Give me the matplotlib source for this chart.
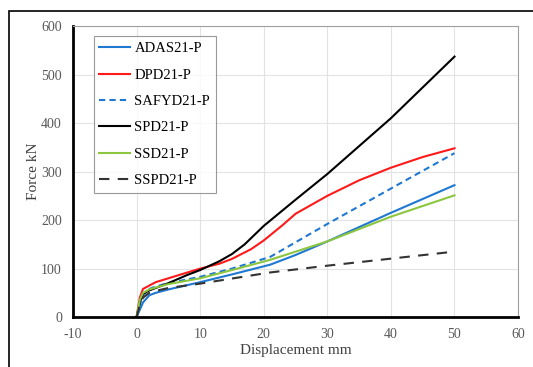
import matplotlib
matplotlib.use("Agg")
import matplotlib.pyplot as plt
from matplotlib.patches import Rectangle

plt.rcParams['font.family'] = ['Liberation Serif', 'DejaVu Serif']
plt.rcParams['axes.unicode_minus'] = False

# displacement (mm) / force (kN)
adas_x = [0, 0.5, 1, 2, 3, 5, 10, 15, 21, 25, 30, 40, 50]
adas_y = [0, 15, 30, 45, 50, 57, 72, 88, 108, 128, 156, 215, 272]

dpd_x = [0, 0.5, 1, 2, 3, 5, 8, 10, 13, 15, 18, 20, 23, 25, 30, 35, 40, 45, 50]
dpd_y = [0, 40, 58, 65, 72, 80, 92, 100, 110, 120, 140, 158, 190, 213, 250, 282, 308, 330, 348]

safyd_x = [0, 0.5, 1, 2, 3, 5, 10, 15, 21, 30, 40, 50]
safyd_y = [0, 25, 45, 58, 63, 70, 83, 100, 124, 192, 265, 338]

spd_x = [0, 0.5, 1, 2, 5, 8, 10, 13, 15, 17, 20, 25, 30, 40, 50]
spd_y = [0, 30, 48, 55, 70, 87, 97, 115, 130, 150, 188, 242, 295, 410, 537]

ssd_x = [0, 0.5, 1, 2, 3, 5, 10, 15, 21, 30, 40, 50]
ssd_y = [0, 35, 50, 57, 61, 68, 80, 97, 118, 156, 207, 251]

sspd_x = [0, 0.5, 1, 2, 3, 5, 10, 21, 30, 50]
sspd_y = [0, 25, 40, 50, 54, 60, 69, 92, 106, 135]

fig = plt.figure(figsize=(5.33, 3.67), dpi=100)
ax = fig.add_axes([0.137, 0.136, 0.835, 0.793])

ax.plot(adas_x, adas_y, color="#1f78d1", lw=1.5, label="ADAS21-P")
ax.plot(dpd_x, dpd_y, color="#ff1a1a", lw=1.5, label="DPD21-P")
ax.plot(safyd_x, safyd_y, color="#1f78d1", lw=1.5, ls=(0, (3, 2)), label="SAFYD21-P")
ax.plot(spd_x, spd_y, color="black", lw=1.5, label="SPD21-P")
ax.plot(ssd_x, ssd_y, color="#8cc63f", lw=1.5, label="SSD21-P")
ax.plot(sspd_x, sspd_y, color="#333333", lw=1.5, ls=(0, (5, 4)), label="SSPD21-P")

ax.set_xlim(-10, 60)
ax.set_ylim(0, 600)
ax.set_xticks(range(-10, 61, 10))
ax.set_yticks(range(0, 601, 100))
ax.grid(True, color="#e3e3e3", lw=0.8)
ax.set_axisbelow(True)
ax.tick_params(length=0, labelsize=10, labelcolor="#595959", pad=8)

for s in ["top", "right"]:
    ax.spines[s].set_color("#a0a0a0")
    ax.spines[s].set_linewidth(0.8)
for s in ["left", "bottom"]:
    ax.spines[s].set_color("black")
    ax.spines[s].set_linewidth(2)

ax.set_xlabel("Displacement mm", fontsize=11, color="#404040", labelpad=2)
ax.set_ylabel("Force kN", fontsize=11, color="#404040", labelpad=1)

leg = ax.legend(loc="upper left", bbox_to_anchor=(0.03, 0.99), fontsize=10.5,
                frameon=True, fancybox=False, edgecolor="#808080",
                handlelength=2.1, handletextpad=0.3, labelspacing=0.9,
                borderpad=0.4)
leg.get_frame().set_linewidth(0.8)

# outer frame of the picture
fig.patches.append(Rectangle((9 / 533, -0.1), 1.2, (367 - 11) / 367 + 0.1,
                             transform=fig.transFigure, fill=False,
                             edgecolor="black", lw=1.2))

fig.savefig("out.png", dpi=100)
